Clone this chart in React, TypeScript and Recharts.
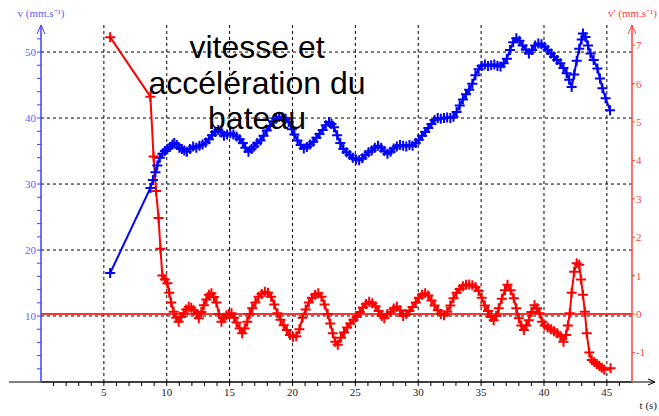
import React from "react";
import {
  LineChart,
  Line,
  XAxis,
  YAxis,
  CartesianGrid,
  ReferenceLine,
} from "recharts";

// v (mm/s), left axis
const vTimes = [
  5.5, 8.7, 8.9, 9.1, 9.25, 9.45, 9.65, 9.85, 10.05, 10.25, 10.45, 10.6, 10.8,
  11.0, 11.2, 11.4, 11.6, 11.85, 12.1, 12.35, 12.6, 12.85, 13.1, 13.35, 13.6,
  13.85, 14.1, 14.35, 14.55, 14.8, 15.05, 15.3, 15.55, 15.8, 16.05, 16.25, 16.5,
  16.75, 16.95, 17.2, 17.45, 17.7, 17.95, 18.2, 18.45, 18.7, 18.95, 19.2, 19.45,
  19.7, 19.95, 20.15, 20.4, 20.65, 20.9, 21.15, 21.4, 21.65, 21.9, 22.15, 22.4,
  22.65, 22.9, 23.1, 23.3, 23.55, 23.8, 24.05, 24.3, 24.55, 24.8, 25.05, 25.3,
  25.55, 25.8, 26.05, 26.3, 26.55, 26.8, 27.05, 27.3, 27.55, 27.8, 28.05, 28.3,
  28.55, 28.8, 29.05, 29.3, 29.55, 29.8, 30.05, 30.3, 30.55, 30.8, 31.05, 31.3,
  31.55, 31.8, 32.05, 32.3, 32.55, 32.8, 33.05, 33.3, 33.55, 33.8, 34.05, 34.3,
  34.55, 34.8, 35.05, 35.3, 35.55, 35.8, 36.05, 36.3, 36.55, 36.8, 37.05, 37.3,
  37.55, 37.8, 38.05, 38.3, 38.55, 38.8, 39.05, 39.3, 39.55, 39.8, 40.05, 40.3,
  40.55, 40.8, 41.05, 41.3, 41.55, 41.8, 42.0, 42.2, 42.4, 42.6, 42.8, 43.0,
  43.1, 43.3, 43.5, 43.7, 43.95, 44.25, 44.45, 44.65, 44.9, 45.25,
];
const vValues = [
  16.5, 29.4, 30.6, 31.8, 32.8, 34.0, 34.6, 35.0, 35.3, 35.6, 36.0, 36.2, 35.9,
  35.5, 35.3, 35.1, 34.9, 35.3, 35.7, 35.5, 35.8, 36.0, 36.3, 36.8, 37.4, 37.9,
  38.2, 37.8, 37.3, 37.5, 37.7, 37.5, 37.2, 36.8, 36.2, 35.5, 34.9, 35.3, 35.7,
  36.2, 36.6, 37.3, 38.1, 38.8, 39.5, 39.9, 40.2, 40.1, 39.9, 39.4, 38.3, 37.5,
  36.6, 35.9, 35.4, 35.6, 36.0, 36.4, 37.0, 37.6, 38.2, 38.9, 39.4, 39.1, 38.6,
  37.4, 36.2, 35.3, 34.8, 34.4, 34.0, 33.7, 33.6, 33.9, 34.4, 34.8, 35.1, 35.5,
  35.8, 35.5, 35.0, 34.6, 34.9, 35.4, 35.7, 35.9, 35.8, 35.7, 35.9, 35.8, 36.2,
  36.7, 37.3, 37.9, 38.5, 39.1, 39.7, 40.0, 39.9, 40.0, 40.1, 40.0, 40.2, 40.9,
  41.9, 42.8, 43.6, 44.3, 45.2, 46.5, 47.4, 47.9, 48.1, 47.9, 48.0, 48.1, 47.9,
  47.8, 48.3, 49.0, 50.3, 51.5, 52.1, 51.7, 51.0, 50.4, 49.8, 50.3, 51.0, 51.3,
  51.2, 50.8, 50.3, 49.8, 49.3, 48.8, 48.3, 47.6, 46.8, 45.8, 44.7, 46.6, 48.7,
  50.5, 51.9, 52.8, 52.3, 51.0, 49.8, 48.8, 47.5, 46.0, 44.5, 43.0, 41.2,
];

// v' (mm/s²), right axis
const aTimes = [
  5.5, 8.7, 8.95, 9.15, 9.35, 9.5, 9.65, 9.85, 10.05, 10.2, 10.35, 10.55, 10.75,
  10.95, 11.15, 11.35, 11.55, 11.75, 11.95, 12.15, 12.35, 12.55, 12.75, 12.95,
  13.15, 13.35, 13.55, 13.75, 13.95, 14.15, 14.35, 14.55, 14.75, 14.95, 15.15,
  15.35, 15.55, 15.8, 16.0, 16.2, 16.4, 16.6, 16.8, 17.05, 17.3, 17.55, 17.8,
  18.05, 18.3, 18.55, 18.8, 19.05, 19.3, 19.55, 19.8, 20.05, 20.3, 20.55, 20.8,
  21.05, 21.3, 21.55, 21.8, 22.05, 22.3, 22.55, 22.8, 23.0, 23.2, 23.4, 23.6,
  23.85, 24.1, 24.35, 24.6, 24.85, 25.1, 25.35, 25.6, 25.85, 26.1, 26.35, 26.6,
  26.85, 27.1, 27.3, 27.55, 27.8, 28.05, 28.3, 28.55, 28.8, 29.05, 29.3, 29.55,
  29.8, 30.05, 30.3, 30.55, 30.8, 31.05, 31.3, 31.55, 31.8, 32.05, 32.3, 32.55,
  32.8, 33.05, 33.3, 33.55, 33.8, 34.05, 34.3, 34.55, 34.8, 35.05, 35.3, 35.55,
  35.8, 36.0, 36.2, 36.4, 36.65, 36.9, 37.1, 37.35, 37.6, 37.8, 38.0, 38.2,
  38.4, 38.6, 38.8, 39.0, 39.25, 39.45, 39.65, 39.85, 40.05, 40.3, 40.55, 40.8,
  41.05, 41.3, 41.55, 41.75, 41.9, 42.05, 42.2, 42.4, 42.6, 42.8, 42.95, 43.1,
  43.25, 43.4, 43.6, 43.8, 44.0, 44.2, 44.4, 44.6, 44.8, 45.3,
];
const aValues = [
  7.21, 5.66, 4.1, 3.2, 2.5, 1.7, 1.0, 0.9, 0.8, 0.55, 0.3, 0.06, -0.1, -0.2,
  -0.08, 0.02, 0.12, 0.19, 0.16, 0.1, 0.0, -0.11, 0.05, 0.23, 0.38, 0.5, 0.54,
  0.44, 0.3, 0.0, -0.2, -0.1, -0.03, 0.0, 0.02, -0.1, -0.22, -0.38, -0.5, -0.38,
  -0.2, 0.0, 0.15, 0.3, 0.45, 0.52, 0.58, 0.55, 0.45, 0.25, 0.02, -0.15, -0.29,
  -0.42, -0.55, -0.6, -0.58, -0.4, -0.1, 0.12, 0.3, 0.42, 0.5, 0.54, 0.45, 0.25,
  0.0, -0.25, -0.5, -0.72, -0.8, -0.62, -0.48, -0.35, -0.25, -0.15, -0.08, 0.05,
  0.17, 0.26, 0.32, 0.28, 0.2, 0.08, -0.05, -0.11, 0.0, 0.06, 0.14, 0.19, 0.1,
  -0.05, 0.0, 0.08, 0.18, 0.3, 0.42, 0.5, 0.54, 0.48, 0.35, 0.22, 0.1, 0.0,
  -0.03, 0.06, 0.22, 0.41, 0.55, 0.65, 0.72, 0.76, 0.77, 0.75, 0.7, 0.6, 0.42,
  0.22, 0.08, -0.08, -0.16, -0.05, 0.15, 0.4, 0.62, 0.76, 0.62, 0.41, 0.15,
  -0.11, -0.3, -0.42, -0.3, -0.16, 0.05, 0.23, 0.15, 0.02, -0.2, -0.3, -0.35,
  -0.4, -0.45, -0.5, -0.58, -0.72, -0.55, -0.3, 0.02, 0.55, 1.1, 1.32, 1.28, 0.9,
  0.5, 0.06, -0.5, -1.0, -1.2, -1.25, -1.3, -1.35, -1.4, -1.45, -1.41,
];

const xLabelTicks = [5, 10, 15, 20, 25, 30, 35, 40, 45];
const xTicks = Array.from({ length: 46 }, (_, i) => i + 1);
const leftLabelTicks = [10, 20, 30, 40, 50];
const leftTicks = Array.from({ length: 26 }, (_, i) => (i + 1) * 2);
const rightTicks = [-1, 0, 1, 2, 3, 4, 5, 6, 7];

const vData = vTimes.map((t, i) => ({ t, v: vValues[i] }));
const aData = aTimes.map((t, i) => ({ t, a: aValues[i] }));

const FONT = "'Liberation Serif', serif";
const BLUE = "#0000ff";
const RED = "#ff0000";

const plus = (color: string) => (props: any) => {
  const { cx, cy, index } = props;
  if (cx == null || cy == null) return <g key={`n${index}`} />;
  return (
    <path
      key={`p${index}`}
      d={`M${cx - 5},${cy}H${cx + 5}M${cx},${cy - 5}V${cy + 5}`}
      stroke={color}
      strokeWidth={2}
      fill="none"
    />
  );
};

const LeftAxisDeco = (props: any) => {
  const { x, y, width } = props.viewBox;
  const ax = x + width;
  return (
    <g>
      <path d={`M${ax - 4},${y + 9}L${ax},${y}L${ax + 4},${y + 9}`} stroke="#4040ff" fill="none" />
      <text x={ax} y={y - 8} textAnchor="middle" fontFamily={FONT} fontSize={11} fill="#6060ff">
        v (mm.s⁻¹)
      </text>
    </g>
  );
};

const RightAxisDeco = (props: any) => {
  const { x, y } = props.viewBox;
  return (
    <g>
      <path d={`M${x - 4},${y + 9}L${x},${y}L${x + 4},${y + 9}`} stroke="#ff4040" fill="none" />
      <text x={657} y={y - 8} textAnchor="end" fontFamily={FONT} fontSize={11} fill="#ff4040">
        v' (mm.s⁻¹)
      </text>
    </g>
  );
};

const BottomAxisDeco = (props: any) => {
  const { x, y, width } = props.viewBox;
  const end = x + width + 23;
  return (
    <g>
      <line x1={x - 32} y1={y} x2={end} y2={y} stroke="#000" />
      <path d={`M${end - 7},${y - 3}L${end},${y}L${end - 7},${y + 3}`} stroke="#000" fill="none" />
      <text x={657} y={y + 27} textAnchor="end" fontFamily={FONT} fontSize={11} fill="#222">
        t (s)
      </text>
    </g>
  );
};

export default function App() {
  return (
    <div style={{ position: "absolute", left: 0, top: 0, width: 659, height: 416, background: "#fff" }}>
      <LineChart width={659} height={416} margin={{ top: 25, right: 0, left: 0, bottom: 0 }}>
        <CartesianGrid
          yAxisId="left"
          stroke="#000"
          strokeDasharray="3 3"
          verticalValues={xLabelTicks}
          horizontalValues={leftLabelTicks}
        />
        <XAxis
          dataKey="t"
          type="number"
          domain={[0, 47]}
          ticks={xTicks}
          interval={0}
          height={34}
          tickSize={4}
          tickMargin={2}
          tickFormatter={(t: number) => (xLabelTicks.includes(t) ? String(t) : "")}
          tick={{ fill: "#222", fontSize: 11, fontFamily: FONT }}
          axisLine={{ stroke: "#000" }}
          tickLine={{ stroke: "#000" }}
          label={{ content: BottomAxisDeco }}
          allowDataOverflow
        />
        <YAxis
          yAxisId="left"
          type="number"
          domain={[0, 54.1]}
          ticks={leftTicks}
          interval={0}
          width={41}
          tickSize={4}
          tickMargin={1}
          tickFormatter={(v: number) => (leftLabelTicks.includes(v) ? String(v) : "")}
          tick={{ fill: "#6060ff", fontSize: 11, fontFamily: FONT }}
          axisLine={{ stroke: "#4040ff", strokeWidth: 1.5 }}
          tickLine={{ stroke: "#4040ff" }}
          label={{ content: LeftAxisDeco }}
          allowDataOverflow
        />
        <YAxis
          yAxisId="right"
          orientation="right"
          type="number"
          domain={[-1.771, 7.526]}
          ticks={rightTicks}
          interval={0}
          width={27}
          tickSize={3}
          tickMargin={1}
          tick={{ fill: "#ff4040", fontSize: 11, fontFamily: FONT }}
          axisLine={{ stroke: "#ff4040", strokeWidth: 1.5 }}
          tickLine={{ stroke: "#ff4040" }}
          label={{ content: RightAxisDeco }}
          allowDataOverflow
        />
        <ReferenceLine yAxisId="right" y={0} stroke="#ff3030" strokeWidth={2} />
        <Line
          yAxisId="left"
          data={vData}
          dataKey="v"
          type="linear"
          stroke={BLUE}
          strokeWidth={2}
          dot={plus(BLUE)}
          activeDot={false}
          isAnimationActive={false}
        />
        <Line
          yAxisId="right"
          data={aData}
          dataKey="a"
          type="linear"
          stroke={RED}
          strokeWidth={2}
          dot={plus(RED)}
          activeDot={false}
          isAnimationActive={false}
        />
      </LineChart>
      <div
        style={{
          position: "absolute",
          left: 107,
          top: 30,
          width: 300,
          textAlign: "center",
          fontFamily: "'Liberation Sans', Arial, sans-serif",
          fontSize: 32,
          lineHeight: "35.5px",
          color: "#000",
          pointerEvents: "none",
        }}
      >
        vitesse et
        <br />
        accélération du
        <br />
        bateau
      </div>
    </div>
  );
}
